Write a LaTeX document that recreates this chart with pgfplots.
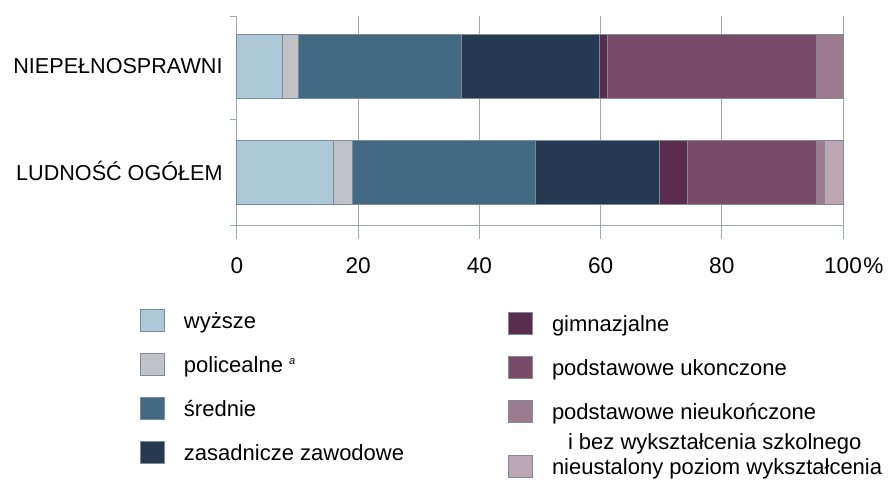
\documentclass[border=0pt]{standalone}
\usepackage{fontspec}
\setmainfont{Liberation Sans}
\usepackage{pgfplots}
\pgfplotsset{compat=1.18}

\definecolor{cWyz}{RGB}{173,200,214}
\definecolor{cPol}{RGB}{191,194,199}
\definecolor{cSre}{RGB}{67,106,132}
\definecolor{cZas}{RGB}{37,58,80}
\definecolor{cGim}{RGB}{90,44,78}
\definecolor{cPodU}{RGB}{122,74,105}
\definecolor{cPodN}{RGB}{156,123,142}
\definecolor{cNie}{RGB}{189,167,180}
\definecolor{barline}{RGB}{128,138,148}
\definecolor{gridgray}{RGB}{160,168,176}

\pgfplotsset{
  edulegend/.style={
    legend image code/.code={\draw[##1] (0pt,-1.5pt) rectangle (12pt,9.5pt);},
    legend style={draw=none, fill=none, inner sep=0pt, outer sep=0pt,
      anchor=north west, font=\fontsize{11}{13}\selectfont,
      cells={anchor=base west},
      nodes={inner sep=0pt, text height=9pt, text depth=3pt},
      column sep=9.5pt, row sep=9.25pt},
  },
  segment/.style={fill=#1, draw=barline, line width=0.5pt},
}

\begin{document}
\begin{tikzpicture}
\begin{axis}[
  scale only axis, width=303pt, height=104.5pt,
  xbar stacked, bar width=32pt,
  xmin=0, xmax=100, ymin=-0.49, ymax=1.47,
  axis x line*=bottom, axis y line*=left,
  axis line style={draw=gridgray, line width=0.5pt, -},
  xtick={0,20,40,60,80,100},
  xticklabels={0,20,40,60,80,100\rlap{\kern0.8pt\%}},
  ytick={0,1},
  yticklabels={LUDNOŚĆ OGÓŁEM, NIEPEŁNOSPRAWNI},
  minor ytick={-0.49,0.5,1.47},
  tick align=outside,
  major tick length=7pt, minor tick length=3.5pt,
  tick style={draw=gridgray, line width=0.5pt},
  every major y tick/.append style={draw=none},
  xmajorgrids, grid style={draw=gridgray, line width=0.5pt},
  /pgf/number format/assume math mode=true,
  xticklabel style={font=\fontsize{11.3}{13}\selectfont, inner sep=0pt,
    text height=8.1pt, text depth=0pt, yshift=-9pt},
  yticklabel style={font=\fontsize{10.8}{13}\selectfont, inner sep=0pt,
    text height=7.7pt, text depth=0pt},
  edulegend,
  legend style={at={(-0.16007,-0.40191)}},
  clip=false,
]
% y = 0: ludnosc ogolem, y = 1: niepelnosprawni
\addplot[segment=cWyz] coordinates {(16.0,0) (7.5,1)};
\addlegendentry{wyższe}
\addplot[segment=cPol] coordinates {(3.0,0) (2.6,1)};
\addlegendentry{policealne \raisebox{4pt}{\fontsize{5.5}{6}\selectfont\itshape a}}
\addplot[segment=cSre] coordinates {(30.3,0) (27.0,1)};
\addlegendentry{średnie}
\addplot[segment=cZas] coordinates {(20.4,0) (22.7,1)};
\addlegendentry{zasadnicze zawodowe}
\addplot[segment=cGim] coordinates {(4.6,0) (1.3,1)};
\addplot[segment=cPodU] coordinates {(21.3,0) (34.5,1)};
\addplot[segment=cPodN] coordinates {(1.4,0) (4.4,1)};
\addplot[segment=cNie] coordinates {(3.0,0)};
\end{axis}

\begin{axis}[
  scale only axis, width=303pt, height=104.5pt,
  hide axis, xmin=0, xmax=1, ymin=0, ymax=1,
  edulegend,
  legend style={at={(0.44719,-0.41627)}},
]
\addlegendimage{segment=cGim}
\addlegendentry{gimnazjalne}
\addlegendimage{segment=cPodU}
\addlegendentry{podstawowe ukonczone}
\addlegendimage{segment=cPodN}
\addlegendentry[text depth=8.25pt]{\begin{tabular}[t]{@{}l@{}}podstawowe nieukończone\\[2pt]\hspace*{8pt}i bez wykształcenia szkolnego\end{tabular}}
\addlegendimage{segment=cNie}
\addlegendentry{nieustalony poziom wykształcenia}
\end{axis}

\pgfresetboundingbox
\useasboundingbox (-118.5pt,-127pt) rectangle (326pt,112.5pt);
\end{tikzpicture}
\end{document}
